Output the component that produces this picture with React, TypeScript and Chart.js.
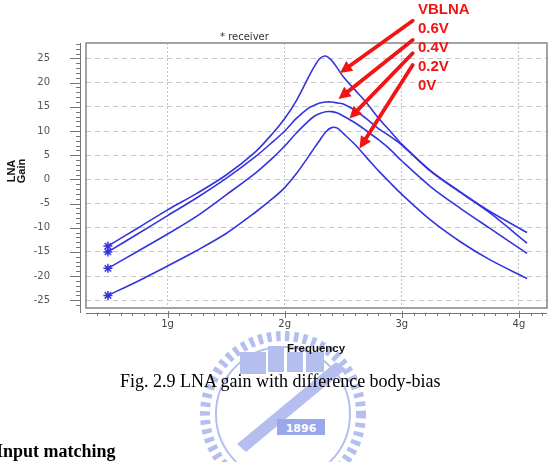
import React, { useEffect, useRef } from "react";
import { Chart, registerables } from "chart.js";

Chart.register(...registerables);

// ---- data ----
const FREQ = [0.49, 0.75, 1.0, 1.25, 1.5, 1.75, 1.9, 2.0, 2.1, 2.2, 2.25, 2.3, 2.35, 2.4, 2.45, 2.5, 2.6, 2.7, 2.8, 2.9, 3.0, 3.25, 3.5, 3.75, 4.07];
const GAIN_06V = [-13.8, -10.0, -6.3, -2.9, 0.9, 5.7, 9.6, 12.6, 16.3, 21.0, 23.2, 25.0, 25.5, 24.6, 23.0, 21.2, 18.5, 15.8, 12.7, 10.0, 7.3, 1.7, -2.6, -6.6, -11.0];
const GAIN_04V = [-15.0, -11.2, -7.5, -3.8, 0.2, 4.7, 7.8, 10.0, 12.6, 14.7, 15.3, 15.8, 16.0, 16.0, 15.8, 15.6, 14.3, 12.5, 10.5, 8.9, 7.1, 1.6, -2.7, -6.9, -13.2];
const GAIN_02V = [-18.4, -14.8, -11.3, -7.6, -3.2, 1.3, 4.5, 6.9, 9.6, 12.0, 13.0, 13.6, 14.0, 14.0, 13.7, 13.1, 11.7, 10.0, 8.2, 6.2, 3.8, -1.6, -6.0, -10.1, -15.3];
const GAIN_00V = [-24.0, -21.0, -17.9, -14.7, -11.2, -6.8, -3.9, -1.7, 1.2, 4.6, 6.4, 8.1, 9.8, 10.7, 10.6, 9.5, 7.2, 4.5, 1.8, -0.7, -3.1, -8.5, -12.9, -16.6, -20.5];
const SERIES_LABELS = ["0.6V", "0.4V", "0.2V", "0V"];
const SERIES_VALUES = [GAIN_06V, GAIN_04V, GAIN_02V, GAIN_00V];
const LEGEND_TITLE = "VBLNA";
const X_TICKS = [1, 2, 3, 4];
const X_TICK_LABELS = ["1g", "2g", "3g", "4g"];
const Y_TICKS = [-25, -20, -15, -10, -5, 0, 5, 10, 15, 20, 25];
const X_MIN = 0.303;
const X_MAX = 4.24;
const Y_MIN = -26.6;
const Y_MAX = 28.2;

const BLUE = "#3434dc";
const RED = "#f01414";
const WM = "#b4bfef";

const frameAxes = {
  id: "frameAxes",
  afterDraw(chart: any) {
    const { ctx, chartArea: a, scales } = chart;
    const xs = scales.x;
    const ys = scales.y;
    ctx.save();
    ctx.strokeStyle = "#858585";
    ctx.lineWidth = 1.5;
    ctx.strokeRect(a.left, a.top, a.right - a.left, a.bottom - a.top);
    ctx.lineWidth = 1;
    ctx.strokeStyle = "#777";
    ctx.beginPath();
    const yx = a.left - 6;
    ctx.moveTo(yx + 0.5, a.top);
    ctx.lineTo(yx + 0.5, a.bottom + 5);
    for (let v = Math.ceil(Y_MIN); v <= Math.floor(Y_MAX); v++) {
      const py = Math.round(ys.getPixelForValue(v)) + 0.5;
      const len = v % 5 === 0 ? 10 : 4;
      ctx.moveTo(yx, py);
      ctx.lineTo(yx - len, py);
    }
    const xy = a.bottom + 5;
    ctx.moveTo(a.left, xy + 0.5);
    ctx.lineTo(a.right, xy + 0.5);
    for (let i = Math.ceil(X_MIN * 10); i <= Math.floor(X_MAX * 10); i++) {
      const px = Math.round(xs.getPixelForValue(i / 10)) + 0.5;
      const major = i % 10 === 0;
      ctx.moveTo(px, xy - (major ? 2 : 0));
      ctx.lineTo(px, xy + (major ? 5 : 3));
    }
    ctx.stroke();
    ctx.restore();
  },
};

function ChartCanvas() {
  const ref = useRef<HTMLCanvasElement | null>(null);
  useEffect(() => {
    if (!ref.current) return;
    const chart = new Chart(ref.current, {
      type: "line",
      data: {
        datasets: SERIES_LABELS.map((label, si) => ({
          label,
          data: FREQ.map((f, i) => ({ x: f, y: SERIES_VALUES[si][i] })),
          borderColor: BLUE,
          backgroundColor: BLUE,
          borderWidth: 1.6,
          fill: false,
          tension: 0.3,
          pointStyle: "star",
          pointRadius: (c: any) => (c.dataIndex === 0 ? 4.5 : 0),
          pointBorderColor: BLUE,
          pointBorderWidth: 1.5,
          pointHoverRadius: 0,
        })),
      },
      options: {
        responsive: false,
        animation: false,
        devicePixelRatio: 1,
        layout: { padding: { left: 0, top: 43, right: 12, bottom: 124 } },
        plugins: { legend: { display: false }, tooltip: { enabled: false }, title: { display: false } },
        scales: {
          x: {
            type: "linear",
            min: X_MIN,
            max: X_MAX,
            afterBuildTicks: (s: any) => {
              s.ticks = X_TICKS.map((v) => ({ value: v }));
            },
            afterFit: (s: any) => {
              s.height = 30;
            },
            ticks: {
              autoSkip: false,
              maxRotation: 0,
              padding: 10,
              color: "#444",
              font: { family: "DejaVu Sans", size: 10 },
              callback: (v: any) => X_TICK_LABELS[X_TICKS.indexOf(Number(v))] ?? "",
            },
            grid: { color: "#c2c2c2", lineWidth: 1, drawTicks: false },
            border: { display: false, dash: [2, 2] },
          },
          y: {
            type: "linear",
            min: Y_MIN,
            max: Y_MAX,
            afterBuildTicks: (s: any) => {
              s.ticks = Y_TICKS.map((v) => ({ value: v }));
            },
            afterFit: (s: any) => {
              s.width = 86;
            },
            ticks: {
              autoSkip: false,
              padding: 36,
              color: "#555",
              font: { family: "DejaVu Sans", size: 10 },
            },
            grid: { color: "#c6c6c6", lineWidth: 1, drawTicks: false },
            border: { display: false, dash: [5, 4] },
          },
        },
      },
      plugins: [frameAxes],
    } as any);
    return () => chart.destroy();
  }, []);
  return <canvas ref={ref} width={559} height={462} style={{ position: "absolute", left: 0, top: 0, width: 559, height: 462 }} />;
}

function Arrow({ x1, y1, x2, y2 }: { x1: number; y1: number; x2: number; y2: number }) {
  const dx = x2 - x1;
  const dy = y2 - y1;
  const L = Math.hypot(dx, dy);
  const ux = dx / L;
  const uy = dy / L;
  const head = 12;
  const half = 6;
  const bx = x2 - ux * head;
  const by = y2 - uy * head;
  const pts = `${x2},${y2} ${bx - uy * half},${by + ux * half} ${bx + uy * half},${by - ux * half}`;
  return (
    <g>
      <line x1={x1} y1={y1} x2={bx + ux * 1} y2={by + uy * 1} stroke={RED} strokeWidth={3.8} strokeLinecap="round" />
      <polygon points={pts} fill={RED} />
    </g>
  );
}

function Watermark() {
  const cx = 283;
  const cy = 414;
  return (
    <svg width={559} height={462} style={{ position: "absolute", left: 0, top: 0 }}>
      <circle cx={cx} cy={cy} r={78} fill="none" stroke={WM} strokeWidth={10} strokeDasharray="4.5 4.5" />
      <circle cx={cx} cy={cy} r={67} fill="none" stroke={WM} strokeWidth={2} />
      <rect x={240} y={352} width={26} height={22} fill={WM} />
      <rect x={268} y={346} width={16} height={26} fill={WM} />
      <rect x={287} y={352} width={16} height={20} fill={WM} />
      <rect x={306} y={352} width={18} height={20} fill={WM} />
      <polygon points="336,362 346,369 246,452 237,444" fill={WM} />
      <rect x={277} y={419} width={48} height={16} fill="#98a8ea" />
      <text x={301} y={431.5} textAnchor="middle" fontFamily="DejaVu Sans" fontWeight="bold" fontSize={11} fill="#fff">1896</text>
    </svg>
  );
}

export default function App() {
  const labelStyle: React.CSSProperties = {
    position: "absolute",
    left: 418,
    fontFamily: "'Liberation Sans', Arial, sans-serif",
    fontWeight: "bold",
    fontSize: 15,
    lineHeight: "15px",
    color: RED,
    whiteSpace: "nowrap",
  };
  const legendLines = [LEGEND_TITLE, ...SERIES_LABELS];
  const legendY = [8.3, 27, 46, 65, 84];
  return (
    <div style={{ position: "fixed", left: 0, top: 0, width: 559, height: 462, overflow: "hidden", background: "#fff" }}>
      <Watermark />
      <ChartCanvas />
      <div style={{ position: "absolute", left: 220, top: 31, fontFamily: "'DejaVu Sans', sans-serif", fontSize: 10, lineHeight: "12px", color: "#333", whiteSpace: "nowrap" }}>
        * receiver
      </div>
      <div
        style={{
          position: "absolute",
          left: 16.5 - 20,
          top: 171 - 11,
          width: 40,
          height: 22,
          transform: "rotate(-90deg)",
          textAlign: "center",
          fontFamily: "'Liberation Sans', Arial, sans-serif",
          fontWeight: "bold",
          fontSize: 11,
          lineHeight: "10px",
          color: "#111",
        }}
      >
        LNA
        <br />
        Gain
      </div>
      <div style={{ position: "absolute", left: 287, top: 341, fontFamily: "'Liberation Sans', Arial, sans-serif", fontWeight: "bold", fontSize: 11.5, lineHeight: "14px", color: "#111", whiteSpace: "nowrap" }}>
        Frequency
      </div>
      {legendLines.map((t, i) => (
        <div key={t} style={{ ...labelStyle, top: legendY[i] - 7.5 }}>
          {t}
        </div>
      ))}
      <svg width={559} height={462} style={{ position: "absolute", left: 0, top: 0 }}>
        <Arrow x1={412.7} y1={20.7} x2={340} y2={73} />
        <Arrow x1={412.7} y1={40} x2={338.5} y2={99} />
        <Arrow x1={412.7} y1={53.3} x2={349.5} y2={118.5} />
        <Arrow x1={412.7} y1={65} x2={359.5} y2={148.5} />
      </svg>
      <div style={{ position: "absolute", left: 120, top: 371.6, fontFamily: "'Liberation Serif', 'Times New Roman', serif", fontSize: 18, lineHeight: "18px", color: "#000", whiteSpace: "nowrap" }}>
        Fig. 2.9 LNA gain with difference body-bias
      </div>
      <div style={{ position: "absolute", left: -4, top: 442, fontFamily: "'Liberation Serif', 'Times New Roman', serif", fontWeight: "bold", fontSize: 18, lineHeight: "18px", color: "#000", whiteSpace: "nowrap" }}>
        Input matching
      </div>
    </div>
  );
}
